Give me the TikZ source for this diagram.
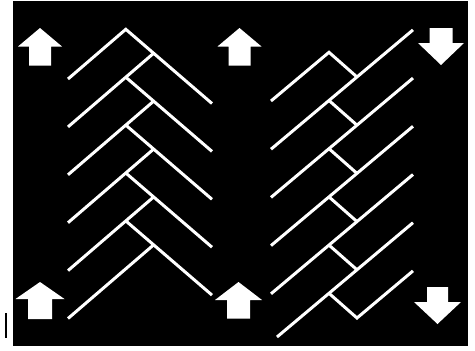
\documentclass[tikz,border=0pt]{standalone}
\usepackage{xcolor}
\usepackage{tikz}
\definecolor{boardblack}{RGB}{0, 0, 0}
\definecolor{strokewhite}{RGB}{255, 255, 255}
\tikzset{
  brick/.style={draw=strokewhite,line width=3pt},
  arrowfill/.style={fill=strokewhite},
}

\begin{document}
\begin{tikzpicture}[x=1pt,y=-1pt]
    % Frame and black board
    \useasboundingbox (0,0) rectangle (475,351);
    \fill[white] (0,0) rectangle (475,351);
    \fill[boardblack] (13,1) rectangle (468,346);
    \draw[boardblack,line width=2pt] (5.5,313) -- (5.5,338);

    % Left pattern: herringbone
    \draw[brick] (68,79) -- (125.8,29.3) -- (212,103.5);
    \draw[brick] (153.6,53.3) -- (68,126.9);
    \draw[brick] (125.8,77.2) -- (212,151.4);
    \draw[brick] (153.6,101.2) -- (68,174.8);
    \draw[brick] (125.8,125.1) -- (212,199.3);
    \draw[brick] (153.6,149.1) -- (68,222.7);
    \draw[brick] (125.8,173.0) -- (212,247.2);
    \draw[brick] (153.6,197.0) -- (68,270.6);
    \draw[brick] (125.8,220.9) -- (212,295.1);
    \draw[brick] (153.6,244.9) -- (68,318.5);

    % Right pattern: staggered rows
    \draw[brick] (271,101) -- (329,52.3) -- (357,77.0);
    \draw[brick] (271,149.2) -- (413,29.9);
    \draw[brick] (271,197.4) -- (413,78.1);
    \draw[brick] (271,245.6) -- (413,126.3);
    \draw[brick] (271,293.8) -- (413,174.5);
    \draw[brick] (277,337) -- (413,222.7);
    \draw[brick] (329,100.5) -- (357,125.2);
    \draw[brick] (329,148.7) -- (357,173.4);
    \draw[brick] (329,196.9) -- (357,221.6);
    \draw[brick] (329,245.1) -- (357,269.8);
    \draw[brick] (329,293.3) -- (357,318) -- (413,270.9);

    % Up arrows
    \fill[arrowfill] (40,28) -- (62,46.5) -- (51,46.5) -- (51,65.5) -- (29,65.5) -- (29,46.5) -- (18,46.5) -- cycle;
    \fill[arrowfill] (239.5,28) -- (261.5,46.5) -- (250.5,46.5) -- (250.5,65.5) -- (228.5,65.5) -- (228.5,46.5) -- (217.5,46.5) -- cycle;
    \fill[arrowfill] (40,282) -- (64.5,299) -- (52,299) -- (52,319) -- (28,319) -- (28,299) -- (15.5,299) -- cycle;
    \fill[arrowfill] (238.5,282) -- (262,300) -- (250,300) -- (250,318.5) -- (227,318.5) -- (227,300) -- (215,300) -- cycle;

    % Down arrows
    \fill[arrowfill] (429.5,28) -- (452.5,28) -- (452.5,43) -- (464,43) -- (441,65) -- (418,43) -- (429.5,43) -- cycle;
    \fill[arrowfill] (427,287) -- (448,287) -- (448,302) -- (461,302) -- (437.5,324) -- (414,302) -- (427,302) -- cycle;
\end{tikzpicture}
\end{document}
